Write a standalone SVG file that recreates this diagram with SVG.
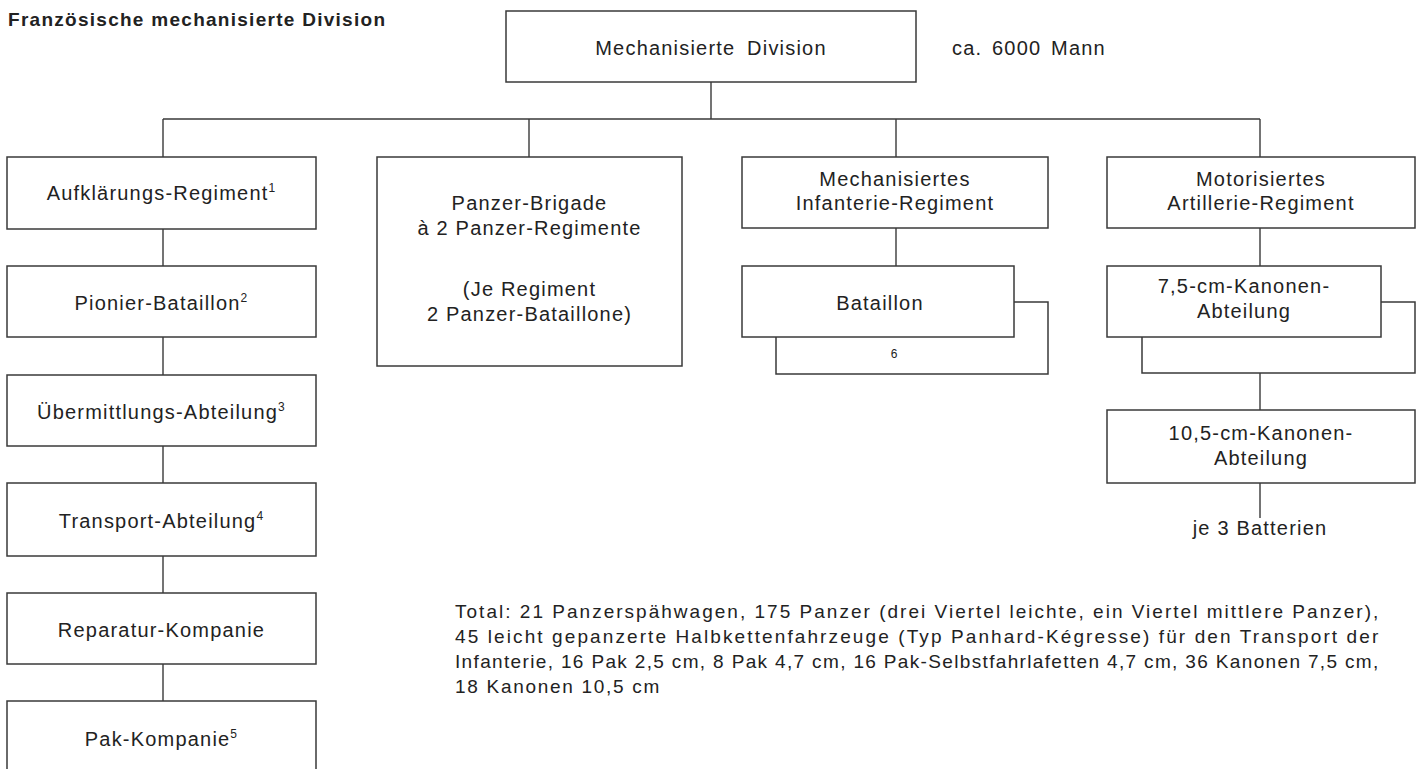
<svg xmlns="http://www.w3.org/2000/svg" width="1419" height="769" viewBox="0 0 1419 769">
<style>
.bg{fill:#ffffff}
.box{fill:none;stroke:#3a3a3a;stroke-width:1.5}
.ln{fill:none;stroke:#3a3a3a;stroke-width:1.4}
.t{font-family:"Liberation Sans",Arial,sans-serif;font-size:20px;fill:#222;letter-spacing:1.2px;text-anchor:middle}
.p{font-family:"Liberation Sans",Arial,sans-serif;font-size:19px;fill:#222;letter-spacing:1.7px}
.title{font-family:"Liberation Sans",Arial,sans-serif;font-size:19px;font-weight:bold;fill:#222}
.sup{font-size:12px}
.small{font-family:"Liberation Sans",Arial,sans-serif;font-size:12px;fill:#222;text-anchor:middle}
</style>
<rect class="bg" x="0" y="0" width="1419" height="769"/>
<text class="title" x="8" y="26" textLength="377" lengthAdjust="spacing">Französische mechanisierte Division</text>

<g id="connectors">
<path class="ln" d="M711 82 V119 M163 119 H1260 M163 119 V157 M529 119 V157 M896 119 V157 M1260 119 V157"/>
<path class="ln" d="M163 229 V266 M163 337 V375 M163 446 V483 M163 556 V593 M163 664 V701"/>
<path class="ln" d="M896 228 V266"/>
<path class="ln" d="M1260 228 V266 M1260 373 V410 M1260 483 V518"/>
</g>

<g id="division">
<rect class="box" x="506" y="11" width="410" height="71"/>
<text class="t" x="711" y="55" word-spacing="5">Mechanisierte Division</text>
</g>
<text id="strength" class="t" x="952" y="55" style="text-anchor:start" word-spacing="3">ca. 6000 Mann</text>

<g id="aufklaerung">
<rect class="box" x="7" y="157" width="309" height="72"/>
<text class="t" x="161.5" y="200">Aufklärungs-Regiment<tspan class="sup" dy="-8">1</tspan></text>
</g>
<g id="pionier">
<rect class="box" x="7" y="266" width="309" height="71"/>
<text class="t" x="161.5" y="310">Pionier-Bataillon<tspan class="sup" dy="-8">2</tspan></text>
</g>
<g id="uebermittlung">
<rect class="box" x="7" y="375" width="309" height="71"/>
<text class="t" x="161.5" y="419">Übermittlungs-Abteilung<tspan class="sup" dy="-8">3</tspan></text>
</g>
<g id="transport">
<rect class="box" x="7" y="483" width="309" height="73"/>
<text class="t" x="161.5" y="528">Transport-Abteilung<tspan class="sup" dy="-8">4</tspan></text>
</g>
<g id="reparatur">
<rect class="box" x="7" y="593" width="309" height="71"/>
<text class="t" x="161.5" y="637">Reparatur-Kompanie</text>
</g>
<g id="pak">
<path class="box" d="M7 790 V701 H316 V790"/>
<text class="t" x="161.5" y="746">Pak-Kompanie<tspan class="sup" dy="-8">5</tspan></text>
</g>

<g id="panzerbrigade">
<rect class="box" x="377" y="157" width="305" height="209"/>
<text class="t" x="529.5" y="210">Panzer-Brigade</text>
<text class="t" x="529.5" y="235">à 2 Panzer-Regimente</text>
<text class="t" x="529.5" y="296">(Je Regiment</text>
<text class="t" x="529.5" y="321">2 Panzer-Bataillone)</text>
</g>

<g id="infanterie">
<rect class="box" x="742" y="157" width="306" height="71"/>
<text class="t" x="895" y="186">Mechanisiertes</text>
<text class="t" x="895" y="210">Infanterie-Regiment</text>
</g>
<g id="bataillon">
<path class="box" d="M1014 302 H1048 V374 H776 V337"/>
<rect class="box" x="742" y="266" width="272" height="71"/>
<text class="t" x="880" y="310">Bataillon</text>
<text class="small" x="894" y="358">6</text>
</g>

<g id="artillerie">
<rect class="box" x="1107" y="157" width="308" height="71"/>
<text class="t" x="1261" y="186">Motorisiertes</text>
<text class="t" x="1261" y="210">Artillerie-Regiment</text>
</g>
<g id="abt75">
<path class="box" d="M1381 302 H1415 V373 H1142 V337"/>
<rect class="box" x="1107" y="266" width="274" height="71"/>
<text class="t" x="1244" y="293">7,5-cm-Kanonen-</text>
<text class="t" x="1244" y="318">Abteilung</text>
</g>
<g id="abt105">
<rect class="box" x="1107" y="410" width="308" height="73"/>
<text class="t" x="1261" y="440">10,5-cm-Kanonen-</text>
<text class="t" x="1261" y="465">Abteilung</text>
</g>
<text id="batterien" class="t" x="1260" y="535">je 3 Batterien</text>

<g id="total">
<text class="p" x="455" y="618" textLength="925" lengthAdjust="spacing">Total: 21 Panzerspähwagen, 175 Panzer (drei Viertel leichte, ein Viertel mittlere Panzer),</text>
<text class="p" x="455" y="643" textLength="925" lengthAdjust="spacing">45 leicht gepanzerte Halbkettenfahrzeuge (Typ Panhard-Kégresse) für den Transport der</text>
<text class="p" x="455" y="668" textLength="925" lengthAdjust="spacing">Infanterie, 16 Pak 2,5 cm, 8 Pak 4,7 cm, 16 Pak-Selbstfahrlafetten 4,7 cm, 36 Kanonen 7,5 cm,</text>
<text class="p" x="455" y="693">18 Kanonen 10,5 cm</text>
</g>
</svg>
